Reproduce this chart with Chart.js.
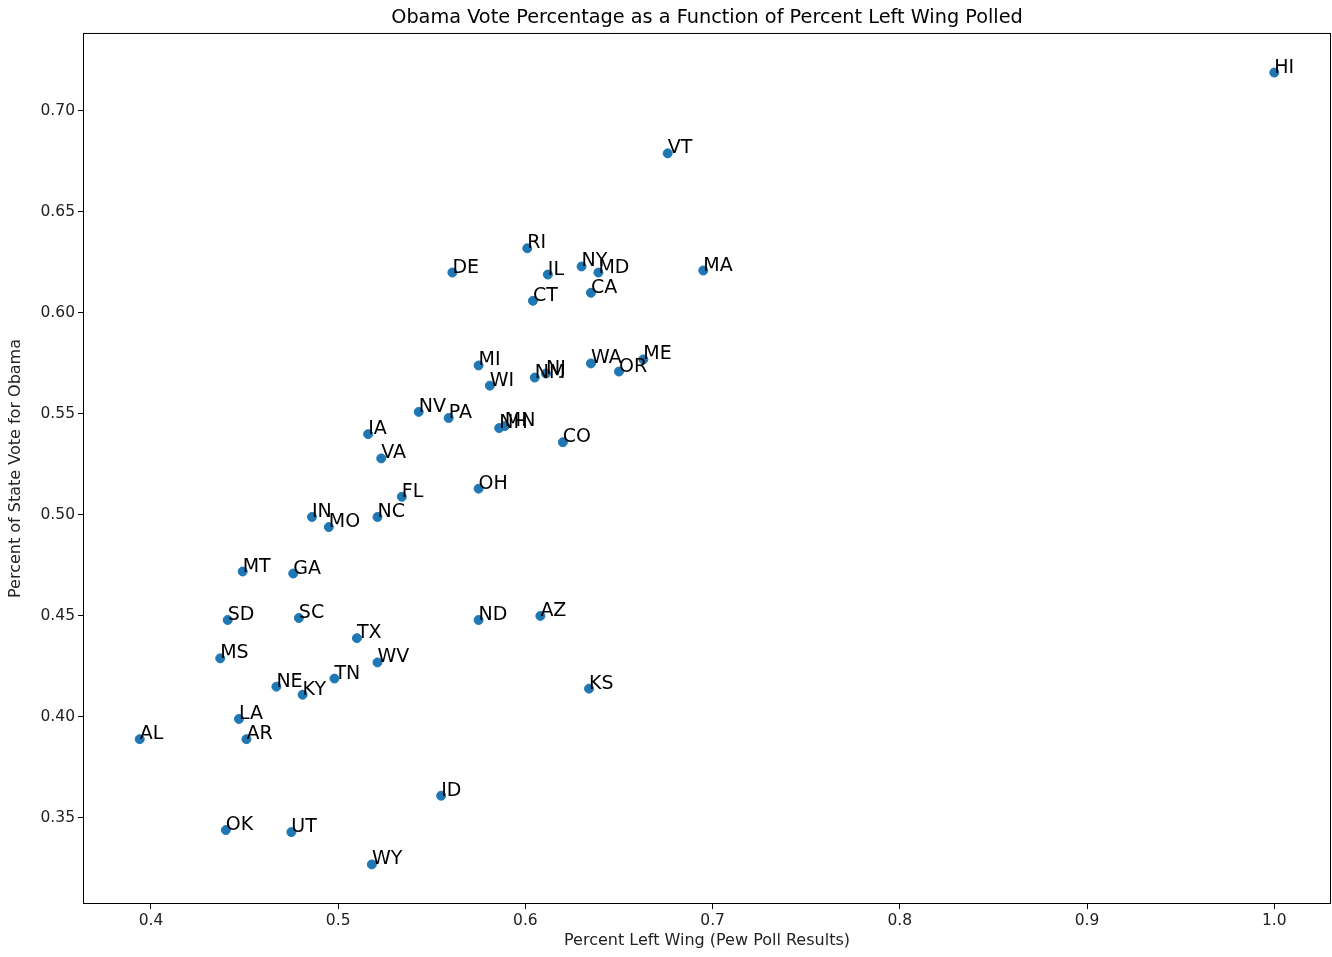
<!DOCTYPE html>
<html>
<head>
<meta charset="utf-8">
<script src="https://cdn.jsdelivr.net/npm/chart.js@4/dist/chart.umd.min.js"></script>
<style>
  body { margin: 0; background: #fff; overflow: hidden; }
  #wrap { width: 1332px; height: 957px; }
</style>
</head>
<body>
<div id="wrap"><canvas id="chart"></canvas></div>
<script>
// State labels, Pew "left wing" share and Obama vote share
const states = ['HI','VT','RI','DE','IL','NY','MD','MA','CA','CT',
  'MI','WI','NM','NJ','WA','OR','ME','NV','PA','NH',
  'MN','IA','VA','CO','OH','FL','NC','IN','MO','MT',
  'GA','SD','SC','ND','AZ','TX','MS','WV','TN','NE',
  'KY','KS','LA','AL','AR','ID','OK','UT','WY'];
const leftWing = [1.000, 0.676, 0.601, 0.561, 0.612, 0.630, 0.639, 0.695, 0.635, 0.604,
  0.575, 0.581, 0.605, 0.611, 0.635, 0.650, 0.663, 0.543, 0.559, 0.586,
  0.589, 0.516, 0.523, 0.620, 0.575, 0.534, 0.521, 0.486, 0.495, 0.449,
  0.476, 0.441, 0.479, 0.575, 0.608, 0.510, 0.437, 0.521, 0.498, 0.467,
  0.481, 0.634, 0.447, 0.394, 0.451, 0.555, 0.440, 0.475, 0.518];
const obamaVote = [0.719, 0.679, 0.632, 0.620, 0.619, 0.623, 0.620, 0.621, 0.610, 0.606,
  0.574, 0.564, 0.568, 0.570, 0.575, 0.571, 0.577, 0.551, 0.548, 0.543,
  0.544, 0.540, 0.528, 0.536, 0.513, 0.509, 0.499, 0.499, 0.494, 0.472,
  0.471, 0.448, 0.449, 0.448, 0.450, 0.439, 0.429, 0.427, 0.419, 0.415,
  0.411, 0.414, 0.399, 0.389, 0.389, 0.361, 0.344, 0.343, 0.327];

const xTicks = [0.4, 0.5, 0.6, 0.7, 0.8, 0.9, 1.0];
const yTicks = [0.35, 0.40, 0.45, 0.50, 0.55, 0.60, 0.65, 0.70];

const points = leftWing.map((x, i) => ({ x: x, y: obamaVote[i] }));

// matplotlib-like box around the axes
const boxPlugin = {
  id: 'box',
  afterDraw(chart) {
    const { ctx, chartArea: a } = chart;
    ctx.save();
    ctx.strokeStyle = '#000';
    ctx.lineWidth = 1;
    ctx.strokeRect(a.left + 0.5, a.top + 0.5, a.right - a.left - 1, a.bottom - a.top - 1);
    ctx.restore();
  }
};

// state abbreviations next to each point
const labelPlugin = {
  id: 'stateLabels',
  afterDatasetsDraw(chart) {
    const ctx = chart.ctx;
    const xs = chart.scales.x, ys = chart.scales.y;
    ctx.save();
    ctx.font = '19px "DejaVu Sans"';
    ctx.fillStyle = '#000';
    ctx.textAlign = 'left';
    ctx.textBaseline = 'alphabetic';
    states.forEach((s, i) => {
      ctx.fillText(s, xs.getPixelForValue(leftWing[i]), ys.getPixelForValue(obamaVote[i]));
    });
    ctx.restore();
  }
};

const tickFont = { family: 'DejaVu Sans', size: 15.5 };
const labelFont = { family: 'DejaVu Sans', size: 16 };

new Chart(document.getElementById('chart'), {
  type: 'scatter',
  data: {
    datasets: [{
      data: points,
      backgroundColor: '#1f77b4',
      borderColor: '#1f77b4',
      pointRadius: 4.5,
      pointHoverRadius: 4.5
    }]
  },
  options: {
    responsive: true,
    maintainAspectRatio: false,
    animation: false,
    layout: { autoPadding: false, padding: { right: 1 } },
    plugins: {
      legend: { display: false },
      tooltip: { enabled: false },
      title: {
        display: true,
        fullSize: false,
        text: 'Obama Vote Percentage as a Function of Percent Left Wing Polled',
        color: '#000',
        font: { family: 'DejaVu Sans', size: 19.3, weight: 'normal' },
        lineHeight: 1.2,
        padding: { top: 6, bottom: 3.8 }
      }
    },
    scales: {
      x: {
        type: 'linear',
        min: 0.3637,
        max: 1.0303,
        afterBuildTicks: s => { s.ticks = xTicks.map(v => ({ value: v })); },
        afterFit: s => { s.height = 53; s.paddingLeft = 0; s.paddingRight = 0; },
        ticks: { color: '#222', font: tickFont, padding: 3, callback: v => v.toFixed(1) },
        grid: { drawOnChartArea: false, drawTicks: true, tickLength: 5, color: '#000' },
        border: { display: false },
        title: {
          display: true,
          text: 'Percent Left Wing (Pew Poll Results)',
          color: '#222',
          font: labelFont,
          padding: { top: 0, bottom: 7 }
        }
      },
      y: {
        type: 'linear',
        min: 0.3074,
        max: 0.7386,
        afterBuildTicks: s => { s.ticks = yTicks.map(v => ({ value: v })); },
        afterFit: s => { s.width = 83; s.paddingTop = 0; s.paddingBottom = 0; },
        ticks: { color: '#222', font: tickFont, padding: 3, callback: v => v.toFixed(2) },
        grid: { drawOnChartArea: false, drawTicks: true, tickLength: 5, color: '#000' },
        border: { display: false },
        title: {
          display: true,
          text: 'Percent of State Vote for Obama',
          color: '#222',
          font: labelFont,
          padding: { top: 6, bottom: 0 }
        }
      }
    }
  },
  plugins: [boxPlugin, labelPlugin]
});
</script>
</body>
</html>
